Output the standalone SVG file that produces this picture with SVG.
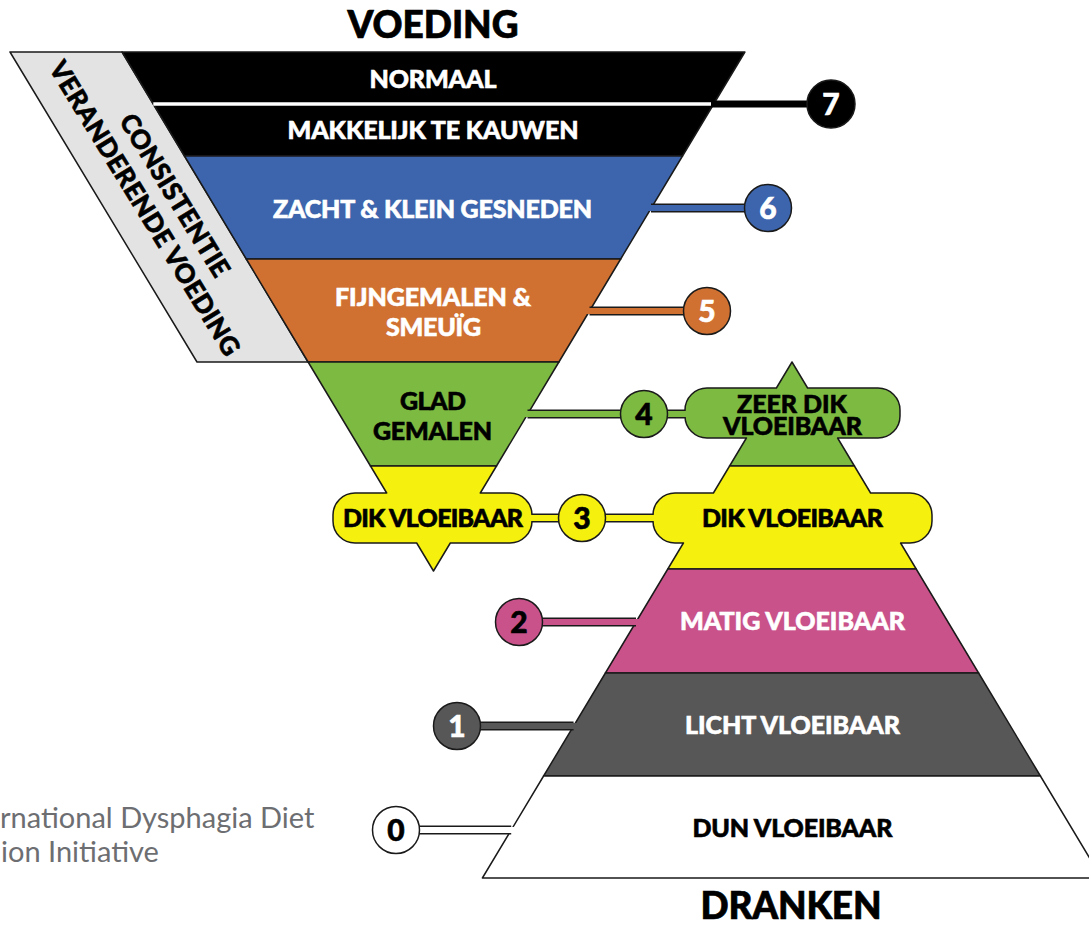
<svg xmlns="http://www.w3.org/2000/svg" width="1089" height="925" viewBox="0 0 1089 925">
<style>
.lbl{font-family:Lato,"Noto Sans","Liberation Sans",sans-serif;font-weight:900;font-size:25px;text-anchor:middle;stroke-width:0.6}
.side{font-family:Lato,"Noto Sans","Liberation Sans",sans-serif;font-weight:900;font-size:26px;text-anchor:middle;fill:#000;stroke:#000;stroke-width:0.6}
.ttl{font-family:Lato,"Noto Sans","Liberation Sans",sans-serif;font-weight:900;font-size:37px;text-anchor:middle;fill:#000;stroke:#000;stroke-width:0.7}
.num{font-family:Lato,"Noto Sans","Liberation Sans",sans-serif;font-weight:900;font-size:30px;text-anchor:middle;stroke-width:0.6}
.foot{font-family:Lato,"Noto Sans","Liberation Sans",sans-serif;font-weight:400;font-size:29px;fill:#6d6e71}
.w{fill:#fff;stroke:#fff}.k{fill:#000;stroke:#000}
.band{stroke:#1a1a1a;stroke-width:1.5;stroke-linejoin:round}
.circ{stroke:#1a1a1a;stroke-width:1.5}
.out{stroke:#1a1a1a;stroke-width:9;fill:none}
.in{stroke-width:6;fill:none}
</style>

<g id="side-label">
<polygon class="band" points="10,52 122.1,52 308.1,362 197,362" fill="#e3e3e3"/>
<text class="side" transform="translate(167,200) rotate(58.5)" textLength="186">CONSISTENTIE</text>
<text class="side" transform="translate(137,213) rotate(58.5)" textLength="340">VERANDERENDE VOEDING</text>
</g>

<g id="title-voeding"><text class="ttl" x="433" y="38" textLength="171">VOEDING</text></g>
<g id="title-dranken"><text class="ttl" x="791" y="919" textLength="181">DRANKEN</text></g>

<g id="food-7">
<polygon class="band" points="122.1,52 744.9,52 682.5,156 184.5,156" fill="#000"/>
<line x1="153.3" y1="104" x2="713" y2="104" stroke="#fff" stroke-width="3.5"/>
<text class="lbl w" x="433" y="88" textLength="127">NORMAAL</text>
<text class="lbl w" x="433" y="139" textLength="291">MAKKELIJK TE KAUWEN</text>
</g>
<g id="food-6">
<polygon class="band" points="184.5,156 682.5,156 620.7,259 246.3,259" fill="#3d65ad"/>
<text class="lbl w" x="432.5" y="218" textLength="319">ZACHT &amp; KLEIN GESNEDEN</text>
</g>
<g id="food-5">
<polygon class="band" points="246.3,259 620.7,259 558.9,362 308.1,362" fill="#d07132"/>
<text class="lbl w" x="433" y="306" textLength="196">FIJNGEMALEN &amp;</text>
<text class="lbl w" x="433.5" y="336" textLength="95">SMEUÏG</text>
</g>
<g id="food-4">
<polygon class="band" points="308.1,362 558.9,362 496.5,466 370.5,466" fill="#7dba41"/>
<text class="lbl k" x="433" y="410" textLength="66">GLAD</text>
<text class="lbl k" x="432.5" y="440" textLength="119">GEMALEN</text>
</g>
<g id="food-3">
<path class="band" fill="#f5f00e" d="M370.5,466 L496.5,466 L480.3,493 L510,493 A22,22 0 0 1 532,515 L532,521 A22,22 0 0 1 510,543 L450.3,543 L433.5,571 L416.7,543 L355,543 A22,22 0 0 1 333,521 L333,515 A22,22 0 0 1 355,493 L386.7,493 Z"/>
<text class="lbl k" x="433" y="527" textLength="180">DIK VLOEIBAAR</text>
</g>

<g id="drink-4">
<path class="band" fill="#7dba41" d="M776.4,388 L792,362 L807.6,388 L878,388 A22,22 0 0 1 900,410 L900,416 A22,22 0 0 1 878,438 L837.6,438 L854.4,466 L729.6,466 L746.4,438 L707,438 A22,22 0 0 1 685,416 L685,410 A22,22 0 0 1 707,388 Z"/>
<text class="lbl k" x="792" y="413" textLength="110">ZEER DIK</text>
<text class="lbl k" x="792.5" y="435" textLength="139">VLOEIBAAR</text>
</g>
<g id="drink-3">
<path class="band" fill="#f5f00e" d="M729.6,466 L854.4,466 L870.6,493 L910,493 A22,22 0 0 1 932,515 L932,521 A22,22 0 0 1 910,543 L900.6,543 L916.2,569 L667.8,569 L683.4,543 L675,543 A22,22 0 0 1 653,521 L653,515 A22,22 0 0 1 675,493 L713.4,493 Z"/>
<text class="lbl k" x="792.5" y="527" textLength="181">DIK VLOEIBAAR</text>
</g>
<g id="drink-2">
<polygon class="band" points="667.8,569 916.2,569 978.6,673 605.4,673" fill="#c9528b"/>
<text class="lbl w" x="792.5" y="630" textLength="225">MATIG VLOEIBAAR</text>
</g>
<g id="drink-1">
<polygon class="band" points="605.4,673 978.6,673 1040.4,776 543.6,776" fill="#575757"/>
<text class="lbl w" x="792.5" y="734" textLength="215">LICHT VLOEIBAAR</text>
</g>
<g id="drink-0">
<polygon class="band" points="543.6,776 1040.4,776 1101.6,878 482.4,878" fill="#fff"/>
<text class="lbl k" x="792.5" y="837" textLength="200">DUN VLOEIBAAR</text>
</g>

<g id="connectors">
<line x1="711" y1="104" x2="831" y2="104" stroke="#000" stroke-width="7"/>
<line class="out" x1="651" y1="208" x2="768" y2="208"/>
<line class="in" x1="645" y1="208" x2="768" y2="208" stroke="#3d65ad"/>
<line class="out" x1="589.5" y1="311" x2="707" y2="311"/>
<line class="in" x1="584" y1="311" x2="707" y2="311" stroke="#d07132"/>
<line class="out" x1="527.5" y1="414" x2="685" y2="414"/>
<line class="in" x1="522" y1="414" x2="690" y2="414" stroke="#7dba41"/>
<line class="out" x1="532" y1="518" x2="653" y2="518"/>
<line class="in" x1="527" y1="518" x2="658" y2="518" stroke="#f5f00e"/>
<line class="out" x1="519" y1="622" x2="636" y2="622"/>
<line class="in" x1="519" y1="622" x2="641" y2="622" stroke="#c9528b"/>
<line class="out" x1="457" y1="726" x2="573.6" y2="726"/>
<line class="in" x1="457" y1="726" x2="579" y2="726" stroke="#575757"/>
<line class="out" x1="396" y1="830" x2="511.2" y2="830"/>
<line class="in" x1="396" y1="830" x2="517" y2="830" stroke="#fff"/>
</g>

<g id="num-7"><circle class="circ" cx="831" cy="104" r="24" fill="#000"/><text class="num w" x="831" y="115">7</text></g>
<g id="num-6"><circle class="circ" cx="768" cy="208" r="23.5" fill="#3d65ad"/><text class="num w" x="768" y="219">6</text></g>
<g id="num-5"><circle class="circ" cx="707" cy="311" r="23.5" fill="#d07132"/><text class="num w" x="707" y="322">5</text></g>
<g id="num-4"><circle class="circ" cx="644" cy="414" r="23.5" fill="#7dba41"/><text class="num k" x="644" y="425">4</text></g>
<g id="num-3"><circle class="circ" cx="582" cy="518" r="23.5" fill="#f5f00e"/><text class="num k" x="582" y="529">3</text></g>
<g id="num-2"><circle class="circ" cx="519" cy="622" r="23.5" fill="#c9528b"/><text class="num k" x="519" y="633">2</text></g>
<g id="num-1"><circle class="circ" cx="457" cy="726" r="23.5" fill="#575757"/><text class="num w" x="457" y="737">1</text></g>
<g id="num-0"><circle class="circ" cx="396" cy="830" r="23.5" fill="#fff"/><text class="num k" x="396" y="841">0</text></g>

<g id="footer">
<text class="foot" x="0" y="828">rnational Dysphagia Diet</text>
<text class="foot" x="1" y="862">ion Initiative</text>
</g>
</svg>
